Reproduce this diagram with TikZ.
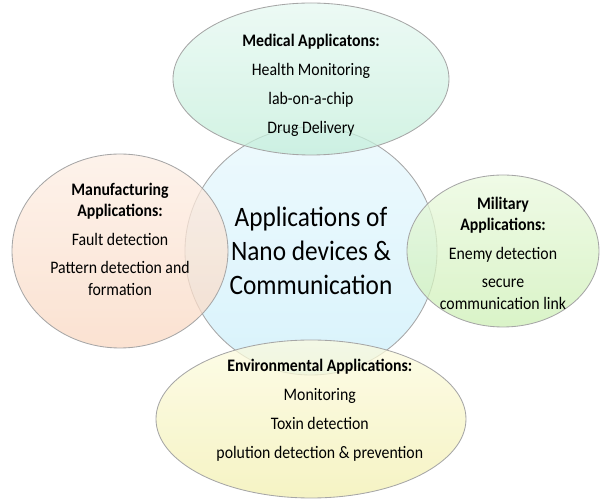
\documentclass[tikz,border=0pt]{standalone}
\usepackage{fontspec}
\setmainfont{Carlito}[FakeStretch=0.9]
\usetikzlibrary{shapes.geometric}

\definecolor{hubtop}{HTML}{E8F8FD}
\definecolor{hubbot}{HTML}{CBEEFA}
\definecolor{medtop}{HTML}{E6F8F1}
\definecolor{medbot}{HTML}{C3EEDA}
\definecolor{mantop}{HTML}{FDEEE4}
\definecolor{manbot}{HTML}{F9D8C2}
\definecolor{miltop}{HTML}{EAF9DE}
\definecolor{milbot}{HTML}{CDEFB5}
\definecolor{envtop}{HTML}{FCFBDF}
\definecolor{envbot}{HTML}{F2EFB0}

\tikzset{
    bubble/.style = {draw=black!35, line width=0.6pt, ellipse, inner sep=0pt, fill opacity=0.75, text opacity=1},
    txt/.style = {align=center, font=\fontsize{12.5}{15}\selectfont}
}

\begin{document}
\begin{tikzpicture}
    \useasboundingbox (-7.775,-6.2) rectangle (7.225,6.275);
    \node[bubble, top color=hubtop, bottom color=hubbot, minimum width=63mm, minimum height=62mm, font=\fontsize{20}{24}\selectfont, align=center] (hub) at (0,0) {Applications of\\Nano devices \&\\Communication};
    \node[bubble, top color=medtop, bottom color=medbot, minimum width=69mm, minimum height=38mm] (med) [above of=hub, node distance=43mm] {};
    \node[bubble, top color=mantop, bottom color=manbot, minimum width=54mm, minimum height=48.5mm] (man) [left of=hub, node distance=47.75mm] {};
    \node[bubble, top color=miltop, bottom color=milbot, minimum width=48mm, minimum height=38mm] (mil) [right of=hub, node distance=48mm] {};
    \node[bubble, top color=envtop, bottom color=envbot, minimum width=77.5mm, minimum height=39.5mm] (env) [below of=hub, node distance=42mm] {};
    % texts
    \node[txt] (medtxt) [below of=med, node distance=1.6mm] {\textbf{Medical Applicatons:}\\[5.5pt] Health Monitoring\\[5.5pt] lab-on-a-chip\\[5.5pt] Drug Delivery};
    \node[txt] (mantxt) [above of=man, node distance=3mm] {\textbf{Manufacturing}\\ \textbf{Applications:}\\[5.5pt] Fault detection\\[5.5pt] Pattern detection and\\ formation};
    \node[txt] (miltxt) [below of=mil, node distance=0.5mm] {\textbf{Military}\\ \textbf{Applications:}\\[5.5pt] Enemy detection\\[5.5pt] secure\\ communication link};
    \node[txt] (envtxt) [above of=env, node distance=2.2mm, xshift=2.2mm] {\textbf{Environmental Applications:}\\[5.8pt] Monitoring\\[5.8pt] Toxin detection\\[5.8pt] polution detection \& prevention};
\end{tikzpicture}
\end{document}
